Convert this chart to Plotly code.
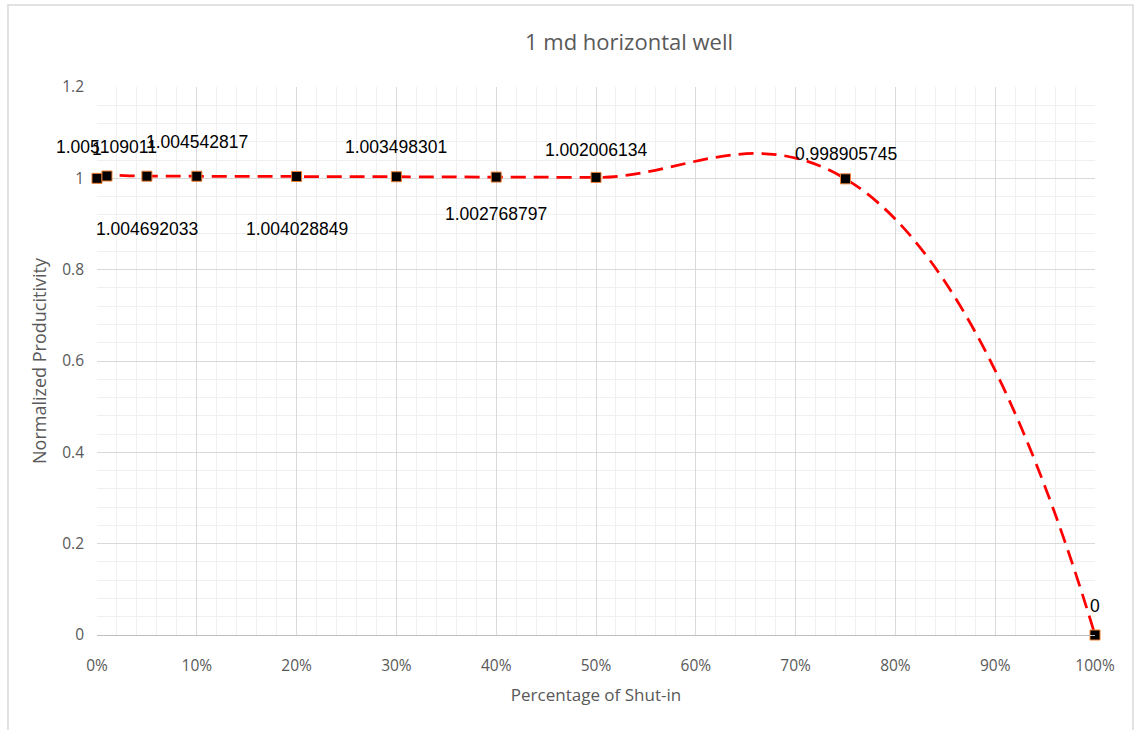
import plotly.graph_objects as go

# Shut-in fraction and normalized productivity for the 1 md horizontal well
shut_in = [0.0, 0.01, 0.05, 0.10, 0.20, 0.30, 0.40, 0.50, 0.75, 1.00]
productivity = [1.0, 1.005109011, 1.004692033, 1.004542817, 1.004028849,
                1.003498301, 1.002768797, 1.002006134, 0.998905745, 0.0]
point_labels = ["1", "1.005109011", "1.004692033", "1.004542817", "1.004028849",
                "1.003498301", "1.002768797", "1.002006134", "0.998905745", "0"]

# vertical placement of each value label (pixels, + above / - below the marker)
label_shift = [29, 29, -53, 34, -53, 30, -37, 27, 25, 29]

GRAY = "#595959"

fig = go.Figure()
fig.add_trace(go.Scatter(
    x=shut_in, y=productivity,
    mode="lines+markers",
    line=dict(color="#FF0000", width=2.75, dash="15px,8px", shape="spline", smoothing=1.3),
    marker=dict(symbol="square", size=10, color="#000000",
                line=dict(color="#ED7D31", width=1)),
    cliponaxis=False,
    hoverinfo="x+y",
    showlegend=False,
))

annotations = []
for xv, yv, txt, dy in zip(shut_in, productivity, point_labels, label_shift):
    annotations.append(dict(
        x=xv, y=yv, xref="x", yref="y", text=txt, showarrow=False,
        yshift=dy, font=dict(family="Liberation Sans", size=17.5, color="#000000"),
        xanchor="center", yanchor="middle",
    ))

annotations.append(dict(
    x=0.533, y=1.0, xref="paper", yref="paper", yshift=46,
    text="1 md horizontal well", showarrow=False,
    font=dict(family="Open Sans", size=22, color=GRAY),
    xanchor="center", yanchor="middle",
))

fig.update_layout(
    width=1136, height=730,
    margin=dict(l=97, r=41, t=87, b=95),
    paper_bgcolor="white", plot_bgcolor="white",
    annotations=annotations,
    shapes=[dict(type="rect", xref="paper", yref="paper",
                 x0=-0.0892, x1=1.0381, y0=-0.19, y1=1.1496,
                 line=dict(color="#d9d9d9", width=1.5), layer="below")],
    font=dict(family="Open Sans", color=GRAY),
)

fig.update_xaxes(
    range=[0, 1], dtick=0.1, tick0=0, tickformat=".0%",
    showgrid=True, gridcolor="#d9d9d9", gridwidth=1,
    minor=dict(dtick=0.02, showgrid=True, gridcolor="#f0f0f0", gridwidth=1),
    showline=True, linecolor="#bfbfbf", linewidth=1,
    zeroline=False, ticks="", ticklen=0,
    ticklabelstandoff=16,
    tickfont=dict(family="Open Sans", size=15.5, color=GRAY),
    title=dict(text="Percentage of Shut-in", standoff=14,
               font=dict(family="Open Sans", size=17, color=GRAY)),
)
fig.update_yaxes(
    range=[0, 1.2], dtick=0.2, tick0=0,
    showgrid=True, gridcolor="#d9d9d9", gridwidth=1,
    minor=dict(dtick=0.04, showgrid=True, gridcolor="#f0f0f0", gridwidth=1),
    showline=False, zeroline=False, ticks="",
    tickfont=dict(family="Open Sans", size=15.5, color=GRAY),
    ticklabelstandoff=12,
    title=dict(text="Normalized Producitivity", standoff=10,
               font=dict(family="Open Sans", size=18, color=GRAY)),
)

fig.write_html("out.html")
